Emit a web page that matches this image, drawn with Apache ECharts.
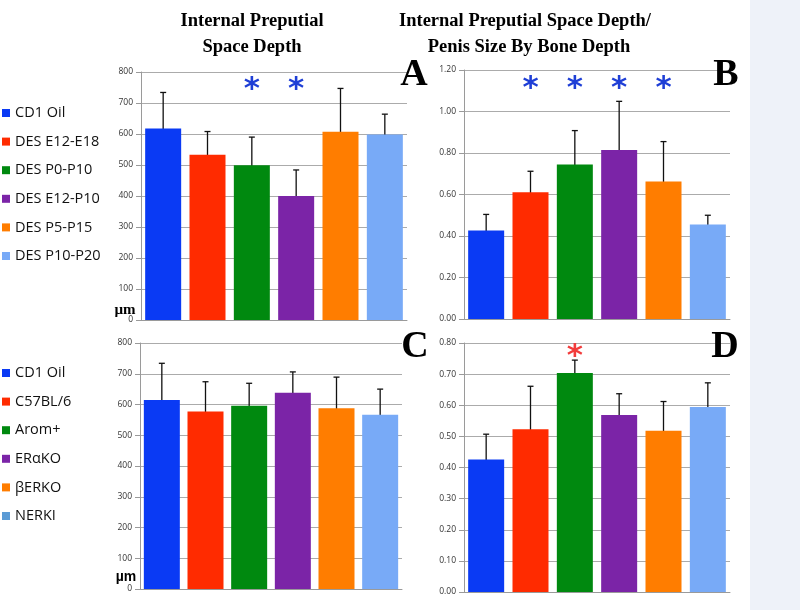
<!DOCTYPE html>
<html>
<head>
<meta charset="utf-8">
<script src="https://cdn.jsdelivr.net/npm/echarts@6/dist/echarts.min.js"></script>
<style>html,body{margin:0;padding:0;background:#fff}#chart{width:800px;height:610px}</style>
</head>
<body>
<div id="chart"></div>
<script>
// ---- data ----
const categories1 = ['CD1 Oil', 'DES E12-E18', 'DES P0-P10', 'DES E12-P10', 'DES P5-P15', 'DES P10-P20'];
const categories2 = ['CD1 Oil', 'C57BL/6', 'Arom+', 'ERαKO', 'βERKO', 'NERKI'];

const depthA   = [618, 533, 499, 400, 607, 598];
const errLowA  = [500, 461, 411, 313, 471, 531];
const errHighA = [734, 608, 590, 484, 747, 664];

const ratioB   = [0.427, 0.611, 0.744, 0.815, 0.663, 0.456];
const errLowB  = [0.350, 0.515, 0.586, 0.584, 0.476, 0.416];
const errHighB = [0.504, 0.712, 0.908, 1.049, 0.855, 0.500];

const depthC   = [615, 577, 596, 638, 588, 567];
const errLowC  = [499, 479, 528, 571, 492, 490];
const errHighC = [734, 674, 669, 706, 689, 650];

const ratioD   = [0.426, 0.523, 0.704, 0.569, 0.518, 0.594];
const errLowD  = [0.350, 0.387, 0.662, 0.507, 0.429, 0.521];
const errHighD = [0.507, 0.661, 0.745, 0.637, 0.612, 0.672];

const sigA = [2, 3];
const sigB = [1, 2, 3, 4];
const sigD = [2];

const titles = ['Internal Preputial', 'Space Depth', 'Internal Preputial Space Depth/', 'Penis Size By Bone Depth'];
const panelLetters = ['A', 'B', 'C', 'D'];

// ---- styling ----
const colors = ['#0a3af4', '#ff2b00', '#00890f', '#7b24a7', '#ff7d00', '#78aaf7'];
const legendColors2 = ['#0a3af4', '#ff2b00', '#00890f', '#7b24a7', '#ff7d00', '#5b9bd5'];

const chart = echarts.init(document.getElementById('chart'), null, {renderer: 'canvas'});

const grids = [
  {left: 141, top: 72, width: 266, height: 248},
  {left: 464, top: 70, width: 266, height: 249},
  {left: 140, top: 343, width: 262, height: 246},
  {left: 464, top: 343, width: 266, height: 249}
];
const yMax = [800, 1.2, 800, 0.8];
const yInt = [100, 0.2, 100, 0.1];
const yDec = [0, 2, 0, 2];

const xAxes = grids.map((g, i) => ({
  type: 'category', gridIndex: i, data: (i < 2 ? categories1 : categories2),
  axisLabel: {show: false}, axisTick: {show: false},
  axisLine: {show: true, lineStyle: {color: '#9a9a9a', width: 1}}
}));
const yAxes = grids.map((g, i) => ({
  type: 'value', gridIndex: i, min: 0, max: yMax[i], interval: yInt[i],
  axisLine: {show: true, lineStyle: {color: '#9a9a9a', width: 1}},
  axisTick: {show: true, length: 5, lineStyle: {color: '#9a9a9a'}},
  splitLine: {show: true, lineStyle: {color: '#ababab', width: 1}},
  axisLabel: {
    margin: 8, fontSize: 8.5, color: '#333', fontFamily: 'Open Sans',
    formatter: v => Number(v).toFixed(yDec[i])
  }
}));

const series = [];
function addPanel(idx, names, vals, lo, hi, sig, sigLevel, sigColor) {
  names.forEach((n, k) => {
    series.push({
      type: 'bar', name: n, xAxisIndex: idx, yAxisIndex: idx, stack: 'p' + idx,
      barWidth: 36, animation: false,
      data: vals.map((v, i) => i === k ? v : '-'),
      itemStyle: {color: colors[k]}
    });
  });
  series.push({
    type: 'custom', xAxisIndex: idx, yAxisIndex: idx, animation: false, silent: true,
    data: lo.map((v, i) => [i, v, hi[i]]),
    encode: {x: 0, y: [1, 2]},
    renderItem: (params, api) => {
      const x = api.value(0);
      const p1 = api.coord([x, api.value(1)]);
      const p2 = api.coord([x, api.value(2)]);
      const st = {stroke: '#111', lineWidth: 1.3};
      const c = 3;
      return {type: 'group', children: [
        {type: 'line', shape: {x1: p1[0], y1: p1[1], x2: p2[0], y2: p2[1]}, style: st},
        {type: 'line', shape: {x1: p1[0] - c, y1: p1[1], x2: p1[0] + c, y2: p1[1]}, style: st},
        {type: 'line', shape: {x1: p2[0] - c, y1: p2[1], x2: p2[0] + c, y2: p2[1]}, style: st}
      ]};
    }
  });
  if (sig.length) {
    series.push({
      type: 'custom', xAxisIndex: idx, yAxisIndex: idx, animation: false, silent: true,
      data: sig.map(i => [i, sigLevel]),
      renderItem: (params, api) => {
        const p = api.coord([api.value(0), api.value(1)]);
        return {type: 'text', x: p[0], y: p[1] + 8, style: {
          text: '*', fill: sigColor, font: 'bold 31px "DejaVu Sans"',
          textAlign: 'center', textVerticalAlign: 'middle'
        }};
      }
    });
  }
}
addPanel(0, categories1, depthA, errLowA, errHighA, sigA, 768, '#1f3fd6');
addPanel(1, categories1, ratioB, errLowB, errHighB, sigB, 1.145, '#1f3fd6');
addPanel(2, categories2, depthC, errLowC, errHighC, [], 0, '#000');
addPanel(3, categories2, ratioD, errLowD, errHighD, sigD, 0.781, '#f23c3c');

const legendBase = {
  orient: 'vertical', left: 2, padding: 0, icon: 'rect',
  itemWidth: 8, itemHeight: 8, itemGap: 12.6, selectedMode: false,
  textStyle: {fontFamily: 'Open Sans', fontSize: 14.5, color: '#111', lineHeight: 16}
};

const titleFont = 'bold 18.5px "Liberation Serif"';
const letterFont = 'bold 38px "Liberation Serif"';
const graphics = [
  {type: 'rect', shape: {x: 750, y: 0, width: 50, height: 610}, style: {fill: '#eef2f9'}, z: -1},
  {type: 'text', x: 252, y: 21, style: {text: titles[0], font: titleFont, fill: '#000', textAlign: 'center', textVerticalAlign: 'middle'}},
  {type: 'text', x: 252, y: 47, style: {text: titles[1], font: titleFont, fill: '#000', textAlign: 'center', textVerticalAlign: 'middle'}},
  {type: 'text', x: 525, y: 21, style: {text: titles[2], font: titleFont, fill: '#000', textAlign: 'center', textVerticalAlign: 'middle'}},
  {type: 'text', x: 529, y: 47, style: {text: titles[3], font: titleFont, fill: '#000', textAlign: 'center', textVerticalAlign: 'middle'}},
  {type: 'text', x: 414, y: 75, style: {text: panelLetters[0], font: letterFont, fill: '#000', textAlign: 'center', textVerticalAlign: 'middle'}, z: 10},
  {type: 'text', x: 726, y: 75, style: {text: panelLetters[1], font: letterFont, fill: '#000', textAlign: 'center', textVerticalAlign: 'middle'}, z: 10},
  {type: 'text', x: 415, y: 347, style: {text: panelLetters[2], font: letterFont, fill: '#000', textAlign: 'center', textVerticalAlign: 'middle'}, z: 10},
  {type: 'text', x: 725, y: 347, style: {text: panelLetters[3], font: letterFont, fill: '#000', textAlign: 'center', textVerticalAlign: 'middle'}, z: 10},
  {type: 'text', x: 125, y: 310, style: {text: 'µm', font: 'bold 15px "Liberation Serif"', fill: '#000', textAlign: 'center', textVerticalAlign: 'middle'}},
  {type: 'text', x: 126, y: 577, style: {text: 'µm', font: 'bold 14px "Liberation Sans"', fill: '#000', textAlign: 'center', textVerticalAlign: 'middle'}}
];

chart.setOption({
  animation: false,
  backgroundColor: '#ffffff',
  grid: grids,
  xAxis: xAxes,
  yAxis: yAxes,
  legend: [
    Object.assign({}, legendBase, {top: 105, data: categories1.map((n, k) => ({name: n, itemStyle: {color: colors[k]}}))}),
    Object.assign({}, legendBase, {top: 365, data: categories2.map((n, k) => ({name: n, itemStyle: {color: legendColors2[k]}}))})
  ],
  graphic: graphics,
  series: series
});
</script>
</body>
</html>
